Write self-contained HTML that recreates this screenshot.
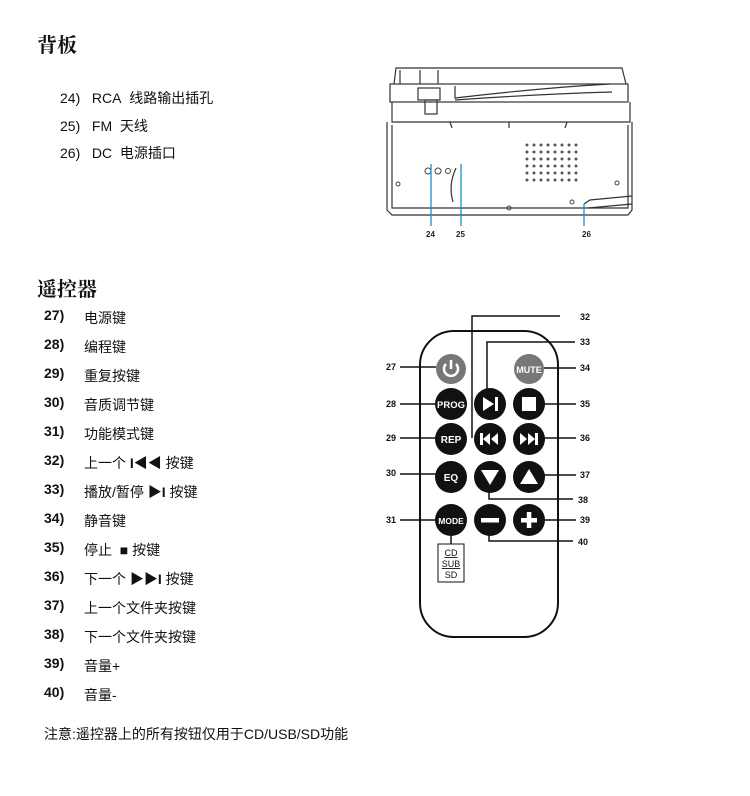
<!DOCTYPE html>
<html><head><meta charset="utf-8"><style>
body{margin:0;width:750px;height:796px;background:#fff;position:relative;overflow:hidden;font-family:"Liberation Sans","Noto Sans CJK SC",sans-serif;color:#111}
.t{position:absolute;white-space:nowrap}
.h{font-family:"Liberation Serif","Noto Serif CJK SC",serif;font-weight:bold;font-size:20px}
.r{font-size:14px}
.n{position:absolute;font-size:14px;font-weight:bold;white-space:nowrap}
.s{position:absolute;font-size:14px;white-space:nowrap}
</style></head><body>
<div class="t h" style="left:37px;top:29px">背板</div>
<div class="t r" style="left:60px;top:88px">24)&nbsp;&nbsp;&nbsp;RCA&nbsp; 线路输出插孔</div>
<div class="t r" style="left:60px;top:116px">25)&nbsp;&nbsp;&nbsp;FM&nbsp; 天线</div>
<div class="t r" style="left:60px;top:143px">26)&nbsp;&nbsp;&nbsp;DC&nbsp; 电源插口</div>
<div class="t h" style="left:37px;top:273px">遥控器</div>
<div class="n" style="left:44px;top:307px">27)</div><div class="s" style="left:84px;top:308px">电源键</div>
<div class="n" style="left:44px;top:336px">28)</div><div class="s" style="left:84px;top:337px">编程键</div>
<div class="n" style="left:44px;top:365px">29)</div><div class="s" style="left:84px;top:366px">重复按键</div>
<div class="n" style="left:44px;top:394px">30)</div><div class="s" style="left:84px;top:395px">音质调节键</div>
<div class="n" style="left:44px;top:423px">31)</div><div class="s" style="left:84px;top:424px">功能模式键</div>
<div class="n" style="left:44px;top:452px">32)</div><div class="s" style="left:84px;top:453px">上一个 <b>I◀◀</b> 按键</div>
<div class="n" style="left:44px;top:481px">33)</div><div class="s" style="left:84px;top:482px">播放/暂停 <b>▶I</b> 按键</div>
<div class="n" style="left:44px;top:510px">34)</div><div class="s" style="left:84px;top:511px">静音键</div>
<div class="n" style="left:44px;top:539px">35)</div><div class="s" style="left:84px;top:540px">停止 &nbsp;■ 按键</div>
<div class="n" style="left:44px;top:568px">36)</div><div class="s" style="left:84px;top:569px">下一个 <b>▶▶I</b> 按键</div>
<div class="n" style="left:44px;top:597px">37)</div><div class="s" style="left:84px;top:598px">上一个文件夹按键</div>
<div class="n" style="left:44px;top:626px">38)</div><div class="s" style="left:84px;top:627px">下一个文件夹按键</div>
<div class="n" style="left:44px;top:655px">39)</div><div class="s" style="left:84px;top:656px">音量+</div>
<div class="n" style="left:44px;top:684px">40)</div><div class="s" style="left:84px;top:685px">音量-</div>
<div class="s" style="left:44px;top:724px">注意:遥控器上的所有按钮仅用于CD/USB/SD功能</div>

<svg width="750" height="796" style="position:absolute;left:0;top:0" font-family="Liberation Sans, sans-serif">
<g fill="none" stroke="#333" stroke-width="1.2">
<path d="M394 84 L396 68 L622 68 L626 84"/>
<path d="M400 84 L400 70 M420 84 L420 70 M438 84 L438 70"/>
<rect x="390" y="84" width="238" height="18"/>
<path d="M392 102 L392 122 L630 122 L630 102"/>
<path d="M387 122 L387 210 L392 215 L628 215 L632 210 L632 122"/>
<path d="M392 125 L392 208 L628 208 L628 125"/>
<path d="M455 86 L455 98 Q540 88 610 84"/>
<path d="M455 100 Q540 94 612 92"/>
<rect x="418" y="88" width="22" height="12"/>
<rect x="425" y="100" width="12" height="14"/>
<path d="M450 122 L452 128 M509 122 L509 128 M567 122 L565 128"/>
<path d="M453 202 Q448 185 456 168"/>
<path d="M584 204 L590 200 L632 196 M588 208 L632 204"/>
</g>
<g fill="none" stroke="#444" stroke-width="1">
<circle cx="428" cy="171" r="3"/><circle cx="438" cy="171" r="3"/><circle cx="448" cy="171" r="2.5"/>
<circle cx="398" cy="184" r="2"/><circle cx="509" cy="208" r="2"/><circle cx="617" cy="183" r="2"/><circle cx="572" cy="202" r="2"/>
</g>
<g fill="#555">
<circle cx="527" cy="145" r="1.5"/><circle cx="534" cy="145" r="1.5"/><circle cx="541" cy="145" r="1.5"/><circle cx="548" cy="145" r="1.5"/><circle cx="555" cy="145" r="1.5"/><circle cx="562" cy="145" r="1.5"/><circle cx="569" cy="145" r="1.5"/><circle cx="576" cy="145" r="1.5"/>
<circle cx="527" cy="152" r="1.5"/><circle cx="534" cy="152" r="1.5"/><circle cx="541" cy="152" r="1.5"/><circle cx="548" cy="152" r="1.5"/><circle cx="555" cy="152" r="1.5"/><circle cx="562" cy="152" r="1.5"/><circle cx="569" cy="152" r="1.5"/><circle cx="576" cy="152" r="1.5"/>
<circle cx="527" cy="159" r="1.5"/><circle cx="534" cy="159" r="1.5"/><circle cx="541" cy="159" r="1.5"/><circle cx="548" cy="159" r="1.5"/><circle cx="555" cy="159" r="1.5"/><circle cx="562" cy="159" r="1.5"/><circle cx="569" cy="159" r="1.5"/><circle cx="576" cy="159" r="1.5"/>
<circle cx="527" cy="166" r="1.5"/><circle cx="534" cy="166" r="1.5"/><circle cx="541" cy="166" r="1.5"/><circle cx="548" cy="166" r="1.5"/><circle cx="555" cy="166" r="1.5"/><circle cx="562" cy="166" r="1.5"/><circle cx="569" cy="166" r="1.5"/><circle cx="576" cy="166" r="1.5"/>
<circle cx="527" cy="173" r="1.5"/><circle cx="534" cy="173" r="1.5"/><circle cx="541" cy="173" r="1.5"/><circle cx="548" cy="173" r="1.5"/><circle cx="555" cy="173" r="1.5"/><circle cx="562" cy="173" r="1.5"/><circle cx="569" cy="173" r="1.5"/><circle cx="576" cy="173" r="1.5"/>
<circle cx="527" cy="180" r="1.5"/><circle cx="534" cy="180" r="1.5"/><circle cx="541" cy="180" r="1.5"/><circle cx="548" cy="180" r="1.5"/><circle cx="555" cy="180" r="1.5"/><circle cx="562" cy="180" r="1.5"/><circle cx="569" cy="180" r="1.5"/><circle cx="576" cy="180" r="1.5"/>
</g>
<g stroke="#1a8fd0" stroke-width="1.3">
<line x1="431" y1="164" x2="431" y2="226"/><line x1="461" y1="164" x2="461" y2="226"/><line x1="584" y1="204" x2="584" y2="226"/>
</g>
<g font-size="8" font-weight="bold" fill="#222">
<text x="426" y="237">24</text><text x="456" y="237">25</text><text x="582" y="237">26</text>
</g>

<rect x="420" y="331" width="138" height="306" rx="34" fill="none" stroke="#111" stroke-width="2"/>
<g stroke="#111" stroke-width="1.5" fill="none">
<line x1="400" y1="367" x2="436" y2="367"/>
<line x1="400" y1="404" x2="436" y2="404"/>
<line x1="400" y1="438" x2="436" y2="438"/>
<line x1="400" y1="474" x2="436" y2="474"/>
<line x1="400" y1="520" x2="436" y2="520"/>
<path d="M560 316 L472 316 L472 438"/>
<path d="M575 342 L487 342 L487 396"/>
<line x1="544" y1="368" x2="576" y2="368"/>
<line x1="544" y1="404" x2="576" y2="404"/>
<line x1="544" y1="438" x2="576" y2="438"/>
<line x1="544" y1="475" x2="576" y2="475"/>
<path d="M489 490 L489 499 L573 499"/>
<line x1="544" y1="520" x2="576" y2="520"/>
<path d="M489 535 L489 541 L573 541"/>
<line x1="451" y1="535" x2="451" y2="544"/>
</g>
<rect x="438" y="544" width="26" height="38" fill="#fff" stroke="#111" stroke-width="1"/>
<g font-size="9" fill="#111" text-anchor="middle"><text x="451" y="556" text-decoration="underline">CD</text><text x="451" y="567" text-decoration="underline">SUB</text><text x="451" y="578">SD</text></g>
<g fill="#111">
<circle cx="451" cy="369" r="15" fill="#777"/><circle cx="529" cy="369" r="15" fill="#777"/>
<circle cx="451" cy="404" r="16"/><circle cx="490" cy="404" r="16"/><circle cx="529" cy="404" r="16"/>
<circle cx="451" cy="439" r="16"/><circle cx="490" cy="439" r="16"/><circle cx="529" cy="439" r="16"/>
<circle cx="451" cy="477" r="16"/><circle cx="490" cy="477" r="16"/><circle cx="529" cy="477" r="16"/>
<circle cx="451" cy="520" r="16"/><circle cx="490" cy="520" r="16"/><circle cx="529" cy="520" r="16"/>
</g>
<path d="M446 364 A7 7 0 1 0 456 364" stroke="#fff" stroke-width="2.5" fill="none"/><line x1="451" y1="360" x2="451" y2="369" stroke="#fff" stroke-width="2.5"/>
<g fill="#fff" font-weight="bold" text-anchor="middle">
<text x="529" y="373" font-size="9">MUTE</text>
<text x="451" y="408" font-size="9.5">PROG</text>
<text x="451" y="443" font-size="10">REP</text>
<text x="451" y="481" font-size="10">EQ</text>
<text x="451" y="524" font-size="8.5">MODE</text>
<path d="M483 397 L494 404 L483 411 Z"/><rect x="495" y="397" width="3" height="14"/>
<rect x="522" y="397" width="14" height="14"/>
<rect x="480" y="433" width="3" height="12"/><path d="M490 433 L483 439 L490 445Z M498 433 L491 439 L498 445Z"/>
<path d="M520 433 L527 439 L520 445Z M528 433 L535 439 L528 445Z"/><rect x="535" y="433" width="3" height="12"/>
<path d="M481 470 L499 470 L490 485Z"/>
<path d="M520 484 L538 484 L529 469Z"/>
<rect x="481" y="518" width="18" height="4.5"/>
<rect x="521" y="518" width="16" height="4.5"/><rect x="526.8" y="512" width="4.5" height="16"/>
</g>
<g font-size="9" font-weight="bold" fill="#111">
<text x="386" y="370">27</text><text x="386" y="407">28</text><text x="386" y="441">29</text><text x="386" y="476">30</text><text x="386" y="523">31</text>
<text x="580" y="320">32</text><text x="580" y="345">33</text><text x="580" y="371">34</text><text x="580" y="407">35</text><text x="580" y="441">36</text><text x="580" y="478">37</text><text x="578" y="503">38</text><text x="580" y="523">39</text><text x="578" y="545">40</text>
</g>
</svg>
</body></html>
